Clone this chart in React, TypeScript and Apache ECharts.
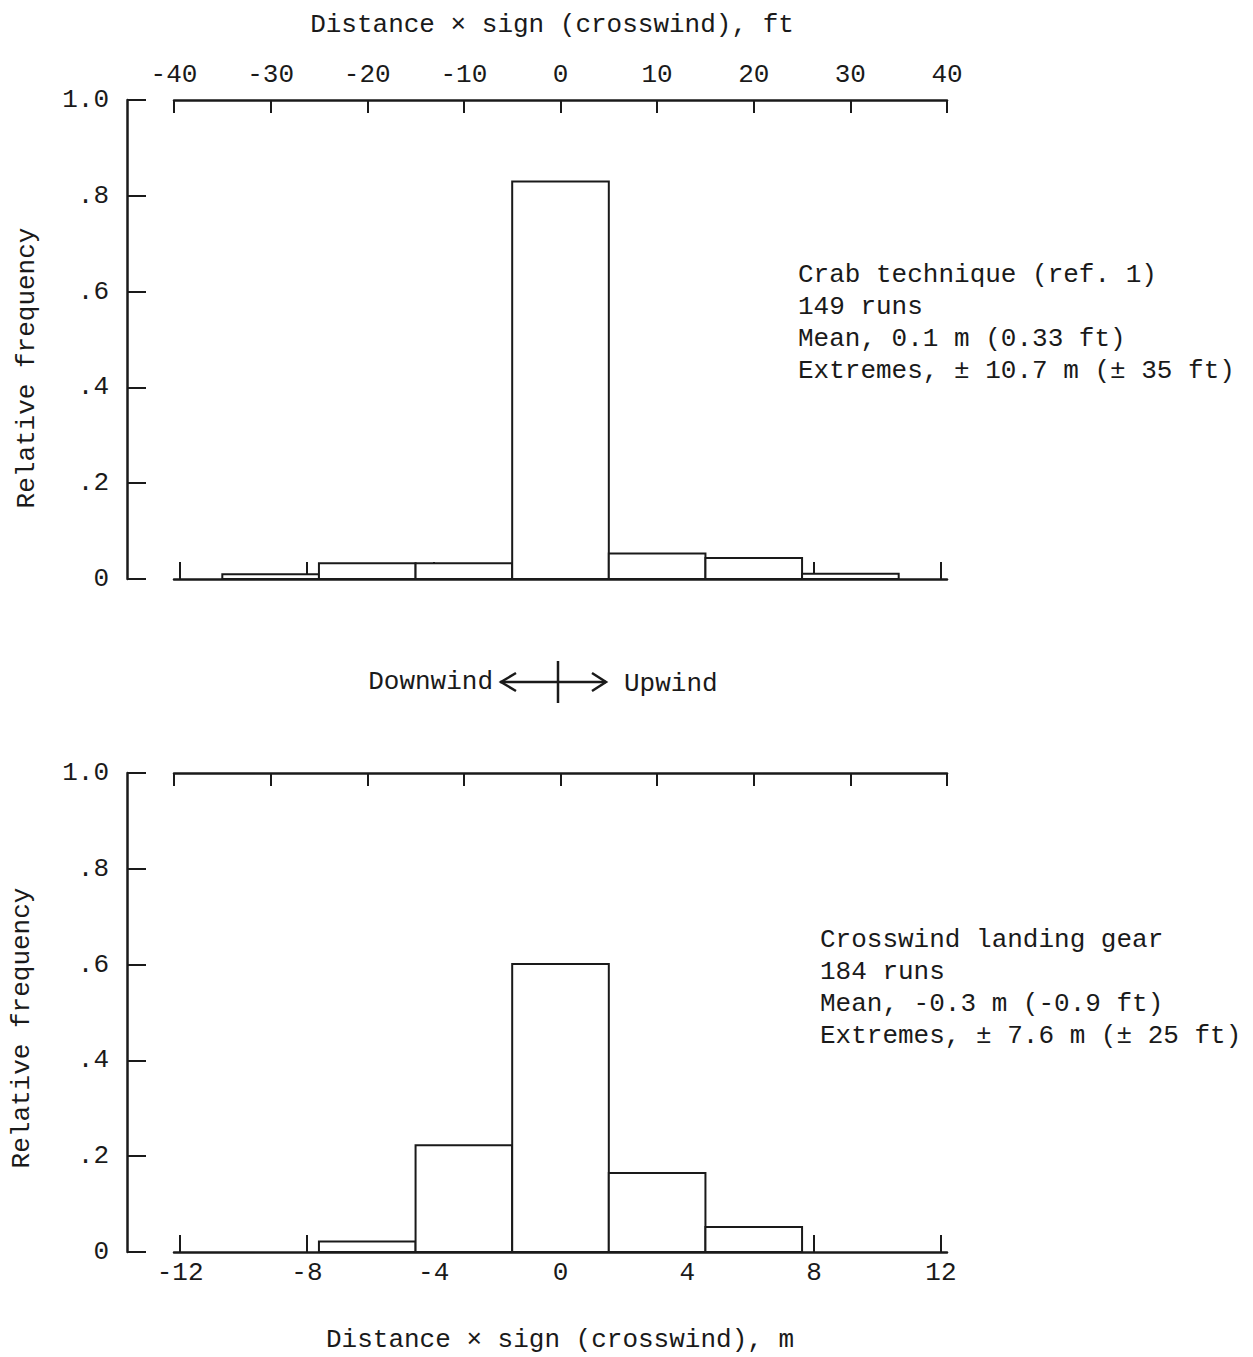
import React, { useEffect, useRef } from "react";
import * as echarts from "echarts";

// Histogram bins (left edges, ft; each bin is 10 ft = 3.048 m wide)
const crabBinLeftFt = [-35, -25, -15, -5, 5, 15, 25];
const crabFreq = [0.01, 0.033, 0.033, 0.83, 0.053, 0.044, 0.011];
const gearBinLeftFt = [-25, -15, -5, 5, 15];
const gearFreq = [0.022, 0.223, 0.601, 0.165, 0.052];
const binWidthFt = 10;

const ftTicks = [-40, -30, -20, -10, 0, 10, 20, 30, 40];
const mTicks = [-12, -8, -4, 0, 4, 8, 12];
const FT_PER_M = 1 / 0.3048;

const crabLines = [
  "Crab technique (ref. 1)",
  "149 runs",
  "Mean, 0.1 m (0.33 ft)",
  "Extremes, \u00b1 10.7 m (\u00b1 35 ft)",
];
const gearLines = [
  "Crosswind landing gear",
  "184 runs",
  "Mean, -0.3 m (-0.9 ft)",
  "Extremes, \u00b1 7.6 m (\u00b1 25 ft)",
];

const FONT = "'Liberation Mono', 'DejaVu Sans Mono', monospace";
const FS = 26;
const INK = "#1a1a1a";

export default function App() {
  const ref = useRef<HTMLDivElement>(null);
  useEffect(() => {
    if (!ref.current) return;
    const chart = echarts.init(ref.current, undefined, { renderer: "svg" });

    const toData = (lefts: number[], freq: number[]) =>
      lefts.map((l, i) => [l, l + binWidthFt, freq[i]]);

    const renderItem = (params: any, api: any) => {
      const x0 = api.value(0);
      const x1 = api.value(1);
      const y = api.value(2);
      const p0 = api.coord([x0, 0]);
      const p1 = api.coord([x1, y]);
      return {
        type: "rect",
        shape: { x: p0[0], y: p1[1], width: p1[0] - p0[0], height: p0[1] - p1[1] },
        style: { fill: "#fff", stroke: INK, lineWidth: 2 },
      };
    };

    const mMax = 40 / FT_PER_M;

    const axisLine = { show: true, onZero: false, lineStyle: { color: INK, width: 2.5 } };
    const labelStyle = { color: INK, fontFamily: FONT, fontSize: FS };

    const ftAxis = (gridIndex: number, showLabel: boolean) => ({
      type: "value",
      gridIndex,
      position: "top",
      min: ftTicks[0],
      max: ftTicks[ftTicks.length - 1],
      interval: 10,
      axisLine,
      axisTick: { show: true, inside: true, length: 13, lineStyle: { color: INK, width: 2 } },
      axisLabel: {
        show: showLabel,
        ...labelStyle,
        margin: 12,
        formatter: (v: number) => String(v),
      },
      splitLine: { show: false },
    });
    const mAxis = (gridIndex: number, showLabel: boolean) => ({
      type: "value",
      gridIndex,
      position: "bottom",
      min: -mMax,
      max: mMax,
      axisLine,
      axisTick: {
        show: true,
        inside: true,
        length: 17,
        customValues: mTicks,
        lineStyle: { color: INK, width: 2 },
      },
      axisLabel: {
        show: showLabel,
        ...labelStyle,
        margin: 8,
        customValues: mTicks,
        formatter: (v: number) => String(Math.round(v)),
      },
      splitLine: { show: false },
    });
    const yAxis = (gridIndex: number) => ({
      type: "value",
      gridIndex,
      position: "left",
      offset: 47,
      min: 0,
      max: 1,
      interval: 0.2,
      axisLine,
      axisTick: { show: true, inside: true, length: 19, lineStyle: { color: INK, width: 2 } },
      axisLabel: {
        ...labelStyle,
        margin: 18,
        formatter: (v: number) =>
          v === 0 ? "0" : v >= 0.999 ? "1.0" : v.toFixed(1).replace(/^0/, ""),
      },
      splitLine: { show: false },
    });

    const textEl = (x: number, y: number, text: string, extra: any = {}) => ({
      type: "text",
      x,
      y,
      silent: true,
      ...extra,
      style: {
        text,
        fill: INK,
        font: `${FS}px ${FONT}`,
        fontFamily: FONT,
        fontSize: FS,
        lineHeight: 32,
        align: extra.align || "left",
        textAlign: extra.align || "left",
        verticalAlign: extra.valign || "middle",
        textVerticalAlign: extra.valign || "middle",
      },
    });

    const option: any = {
      animation: false,
      backgroundColor: "#fff",
      grid: [
        { left: 174, width: 773, top: 100, height: 479 },
        { left: 174, width: 773, top: 773, height: 479 },
      ],
      xAxis: [ftAxis(0, true), mAxis(0, false), ftAxis(1, false), mAxis(1, true)],
      yAxis: [yAxis(0), yAxis(1)],
      series: [
        {
          type: "custom",
          xAxisIndex: 0,
          yAxisIndex: 0,
          encode: { x: [0, 1], y: 2 },
          renderItem,
          data: toData(crabBinLeftFt, crabFreq),
          z: 3,
        },
        {
          type: "custom",
          xAxisIndex: 2,
          yAxisIndex: 1,
          encode: { x: [0, 1], y: 2 },
          renderItem,
          data: toData(gearBinLeftFt, gearFreq),
          z: 3,
        },
      ],
      graphic: [
        textEl(552, 25, "Distance \u00d7 sign (crosswind), ft", { align: "center" }),
        textEl(560, 1340, "Distance \u00d7 sign (crosswind), m", { align: "center" }),
        textEl(27, 368, "Relative frequency", { align: "center", rotation: Math.PI / 2 }),
        textEl(22, 1028, "Relative frequency", { align: "center", rotation: Math.PI / 2 }),
        textEl(798, 259, crabLines.join("\n"), { valign: "top" }),
        textEl(820, 924, gearLines.join("\n"), { valign: "top" }),
        textEl(493, 682, "Downwind", { align: "right" }),
        textEl(624, 684, "Upwind"),
        {
          type: "line",
          shape: { x1: 500, y1: 682, x2: 606, y2: 682 },
          style: { stroke: INK, lineWidth: 2.5 },
        },
        {
          type: "polyline",
          shape: { points: [[516, 673], [501, 682], [516, 691]] },
          style: { stroke: INK, lineWidth: 2.5, fill: null },
        },
        {
          type: "polyline",
          shape: { points: [[592, 673], [606, 682], [592, 691]] },
          style: { stroke: INK, lineWidth: 2.5, fill: null },
        },
        {
          type: "line",
          shape: { x1: 558, y1: 661, x2: 558, y2: 703 },
          style: { stroke: INK, lineWidth: 2.5 },
        },
      ],
    };
    chart.setOption(option);
    return () => chart.dispose();
  }, []);

  return (
    <div
      ref={ref}
      style={{ position: "fixed", left: 0, top: 0, width: 1253, height: 1357, background: "#fff" }}
    />
  );
}
